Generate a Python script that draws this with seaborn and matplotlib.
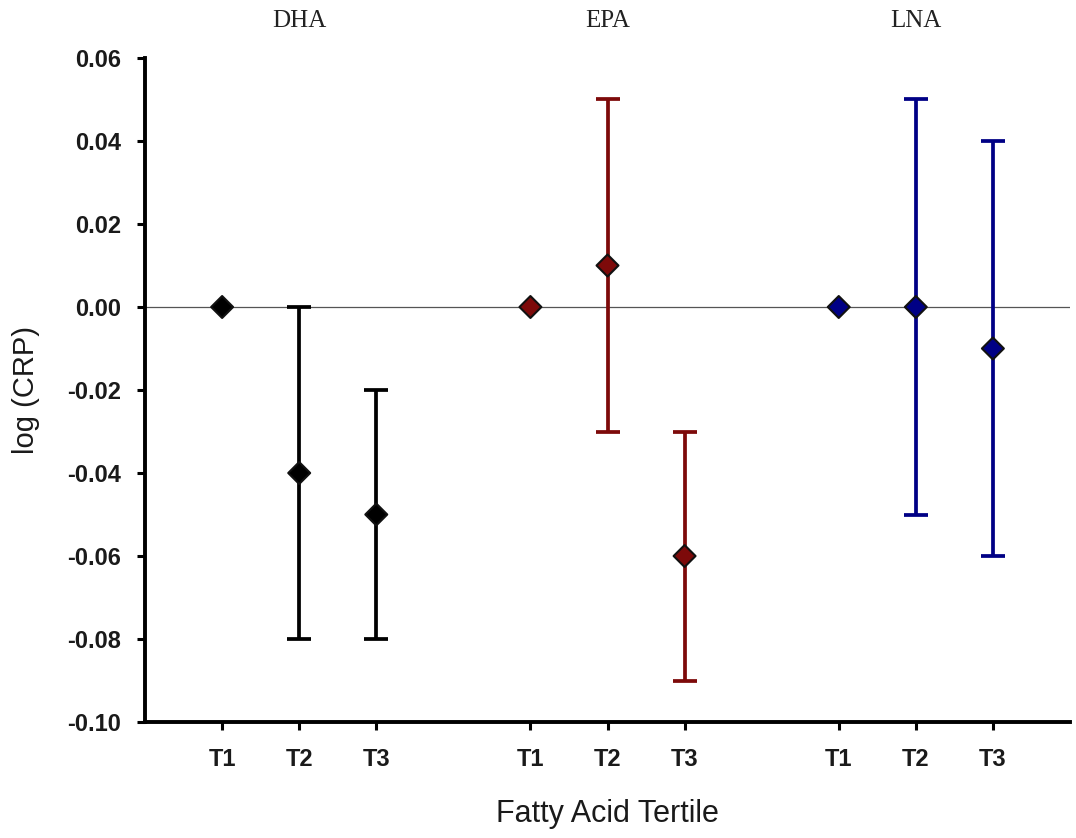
import matplotlib
matplotlib.use("Agg")
import matplotlib.pyplot as plt
import pandas as pd
import seaborn as sns

# values
acids = ["DHA", "EPA", "LNA"]
tertiles = ["T1", "T2", "T3"]
colors = ["#000000", "#7d0a0a", "#000085"]
means = [[0.00, -0.04, -0.05],
         [0.00, 0.01, -0.06],
         [0.00, 0.00, -0.01]]
lower = [[0.00, -0.08, -0.08],
         [0.00, -0.03, -0.09],
         [0.00, -0.05, -0.06]]
upper = [[0.00, 0.00, -0.02],
         [0.00, 0.05, -0.03],
         [0.00, 0.05, 0.04]]
yticks = [-0.10, -0.08, -0.06, -0.04, -0.02, 0.00, 0.02, 0.04, 0.06]

rows = []
for g, acid in enumerate(acids):
    for t, tert in enumerate(tertiles):
        rows.append({"acid": acid, "tertile": tert,
                     "x": g * (len(tertiles) + 1) + t,
                     "mean": means[g][t], "lo": lower[g][t], "hi": upper[g][t]})
df = pd.DataFrame(rows)

sns.set_style("ticks")
plt.rcParams["font.family"] = ["Liberation Sans", "DejaVu Sans"]
plt.rcParams["axes.unicode_minus"] = False

fig = plt.figure(figsize=(10.76, 8.38), dpi=100)
ax = fig.add_axes([0.1348, 0.1384, 0.8596, 0.7924])

ax.axhline(0, color="#555555", lw=0.9, zorder=1)

for acid, color in zip(acids, colors):
    sub = df[(df.acid == acid) & (df.hi > df.lo)]
    ax.errorbar(sub["x"], sub["mean"],
                yerr=[sub["mean"] - sub["lo"], sub["hi"] - sub["mean"]],
                fmt="none", ecolor=color, elinewidth=2.7,
                capsize=8.5, capthick=2.7, zorder=2)

sns.scatterplot(data=df, x="x", y="mean", hue="acid", palette=colors,
                marker="D", s=125, edgecolor="#111111", linewidth=1.5,
                legend=False, zorder=3, ax=ax)

ax.set_xlim(-1, 11)
ax.set_ylim(-0.10, 0.06)
ax.set_yticks(yticks)
ax.set_yticklabels([f"{v:.2f}" for v in yticks])
ax.set_xticks(df["x"])
ax.set_xticklabels(df["tertile"])
for lab in ax.get_xticklabels() + ax.get_yticklabels():
    lab.set_fontweight("bold")
    lab.set_fontsize(17)
    lab.set_color("#1a1a1a")

sns.despine(ax=ax)
for s in ["left", "bottom"]:
    ax.spines[s].set_linewidth(2.8)
    ax.spines[s].set_color("black")
ax.tick_params(axis="both", length=6, width=2.2, color="black")
ax.tick_params(axis="x", pad=13)
ax.tick_params(axis="y", pad=11)

ax.set_xlabel("Fatty Acid Tertile", fontsize=22, color="#1a1a1a", labelpad=20)
ax.set_ylabel("log (CRP)", fontsize=21, color="#1a1a1a", labelpad=20)

for g, acid in enumerate(acids):
    xc = df[df.acid == acid]["x"].mean()
    ax.text(xc, 1.055, acid, transform=ax.get_xaxis_transform(),
            ha="center", va="center", fontsize=18,
            family=["Liberation Serif", "DejaVu Serif"], color="#222222")

fig.savefig("out.png", dpi=100)
